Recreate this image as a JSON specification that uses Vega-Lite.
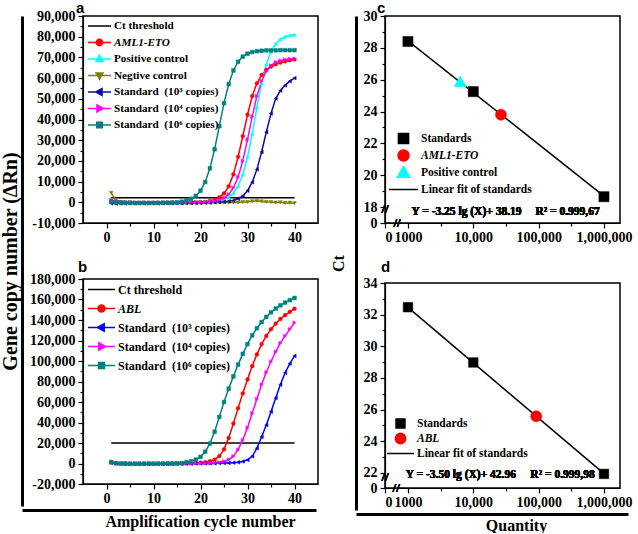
{
"$schema": "https://vega.github.io/schema/vega-lite/v6.json",
"background": "white",
"padding": {"left": 0, "top": 0, "right": 0, "bottom": 0},
"config": {
  "view": {"stroke": "#000", "strokeWidth": 1.5},
  "font": "Liberation Serif",
  "axis": {"labelFont": "Liberation Serif", "labelFontWeight": "bold", "labelFontSize": 14, "labelColor": "#000", "labelOverlap": false, "domainColor": "#000", "domainWidth": 1.2, "tickColor": "#000", "tickWidth": 1.2, "grid": false, "titleFont": "Liberation Serif", "titleFontWeight": "bold", "titleColor": "#000"},
  "legend": {"labelFont": "Liberation Serif", "labelFontWeight": "bold", "labelColor": "#000", "labelLimit": 0},
  "title": {"font": "Liberation Sans", "fontWeight": "bold", "fontSize": 15, "anchor": "start", "frame": "group", "color": "#000"}
},
"datasets": {
"a": [
{"series":"ct","cycle":1,"value":2200},{"series":"ct","cycle":40,"value":2200},
{"series":"aml","cycle":1,"value":500},{"series":"aml","cycle":2,"value":100},{"series":"aml","cycle":3,"value":-100},{"series":"aml","cycle":4,"value":-200},{"series":"aml","cycle":5,"value":-200},{"series":"aml","cycle":6,"value":-300},{"series":"aml","cycle":7,"value":-300},{"series":"aml","cycle":8,"value":-200},{"series":"aml","cycle":9,"value":-300},{"series":"aml","cycle":10,"value":-300},{"series":"aml","cycle":11,"value":-200},{"series":"aml","cycle":12,"value":-300},{"series":"aml","cycle":13,"value":-200},{"series":"aml","cycle":14,"value":-200},{"series":"aml","cycle":15,"value":-300},{"series":"aml","cycle":16,"value":-200},{"series":"aml","cycle":17,"value":-100},{"series":"aml","cycle":18,"value":-100},{"series":"aml","cycle":19,"value":0},{"series":"aml","cycle":20,"value":100},{"series":"aml","cycle":21,"value":200},{"series":"aml","cycle":22,"value":700},{"series":"aml","cycle":23,"value":1300},{"series":"aml","cycle":24,"value":2400},{"series":"aml","cycle":25,"value":4300},{"series":"aml","cycle":26,"value":7700},{"series":"aml","cycle":27,"value":13500},{"series":"aml","cycle":28,"value":22000},{"series":"aml","cycle":29,"value":32000},{"series":"aml","cycle":30,"value":42300},{"series":"aml","cycle":31,"value":51300},{"series":"aml","cycle":32,"value":57500},{"series":"aml","cycle":33,"value":61500},{"series":"aml","cycle":34,"value":64000},{"series":"aml","cycle":35,"value":65600},{"series":"aml","cycle":36,"value":66700},{"series":"aml","cycle":37,"value":67500},{"series":"aml","cycle":38,"value":68100},{"series":"aml","cycle":39,"value":68600},{"series":"aml","cycle":40,"value":69000},
{"series":"pos","cycle":1,"value":800},{"series":"pos","cycle":2,"value":300},{"series":"pos","cycle":3,"value":0},{"series":"pos","cycle":4,"value":-100},{"series":"pos","cycle":5,"value":-200},{"series":"pos","cycle":6,"value":-200},{"series":"pos","cycle":7,"value":-300},{"series":"pos","cycle":8,"value":-200},{"series":"pos","cycle":9,"value":-300},{"series":"pos","cycle":10,"value":-200},{"series":"pos","cycle":11,"value":-300},{"series":"pos","cycle":12,"value":-200},{"series":"pos","cycle":13,"value":-200},{"series":"pos","cycle":14,"value":-300},{"series":"pos","cycle":15,"value":-200},{"series":"pos","cycle":16,"value":-200},{"series":"pos","cycle":17,"value":-100},{"series":"pos","cycle":18,"value":-100},{"series":"pos","cycle":19,"value":0},{"series":"pos","cycle":20,"value":0},{"series":"pos","cycle":21,"value":100},{"series":"pos","cycle":22,"value":200},{"series":"pos","cycle":23,"value":380},{"series":"pos","cycle":24,"value":700},{"series":"pos","cycle":25,"value":1300},{"series":"pos","cycle":26,"value":2400},{"series":"pos","cycle":27,"value":4400},{"series":"pos","cycle":28,"value":7800},{"series":"pos","cycle":29,"value":13400},{"series":"pos","cycle":30,"value":21900},{"series":"pos","cycle":31,"value":33200},{"series":"pos","cycle":32,"value":45800},{"series":"pos","cycle":33,"value":57500},{"series":"pos","cycle":34,"value":66600},{"series":"pos","cycle":35,"value":72800},{"series":"pos","cycle":36,"value":76600},{"series":"pos","cycle":37,"value":78800},{"series":"pos","cycle":38,"value":80000},{"series":"pos","cycle":39,"value":80700},{"series":"pos","cycle":40,"value":81000},
{"series":"neg","cycle":1,"value":4500},{"series":"neg","cycle":2,"value":1200},{"series":"neg","cycle":3,"value":200},{"series":"neg","cycle":4,"value":-200},{"series":"neg","cycle":5,"value":-300},{"series":"neg","cycle":6,"value":-400},{"series":"neg","cycle":7,"value":-300},{"series":"neg","cycle":8,"value":-400},{"series":"neg","cycle":9,"value":-500},{"series":"neg","cycle":10,"value":-400},{"series":"neg","cycle":11,"value":-500},{"series":"neg","cycle":12,"value":-500},{"series":"neg","cycle":13,"value":-400},{"series":"neg","cycle":14,"value":-600},{"series":"neg","cycle":15,"value":-500},{"series":"neg","cycle":16,"value":-400},{"series":"neg","cycle":17,"value":-500},{"series":"neg","cycle":18,"value":-400},{"series":"neg","cycle":19,"value":-300},{"series":"neg","cycle":20,"value":-300},{"series":"neg","cycle":21,"value":-200},{"series":"neg","cycle":22,"value":-300},{"series":"neg","cycle":23,"value":-200},{"series":"neg","cycle":24,"value":-100},{"series":"neg","cycle":25,"value":-200},{"series":"neg","cycle":26,"value":-100},{"series":"neg","cycle":27,"value":0},{"series":"neg","cycle":28,"value":-100},{"series":"neg","cycle":29,"value":100},{"series":"neg","cycle":30,"value":200},{"series":"neg","cycle":31,"value":500},{"series":"neg","cycle":32,"value":700},{"series":"neg","cycle":33,"value":400},{"series":"neg","cycle":34,"value":200},{"series":"neg","cycle":35,"value":100},{"series":"neg","cycle":36,"value":-100},{"series":"neg","cycle":37,"value":0},{"series":"neg","cycle":38,"value":-300},{"series":"neg","cycle":39,"value":-200},{"series":"neg","cycle":40,"value":-400},
{"series":"s3","cycle":1,"value":-500},{"series":"s3","cycle":2,"value":-600},{"series":"s3","cycle":3,"value":-500},{"series":"s3","cycle":4,"value":-500},{"series":"s3","cycle":5,"value":-400},{"series":"s3","cycle":6,"value":-500},{"series":"s3","cycle":7,"value":-400},{"series":"s3","cycle":8,"value":-500},{"series":"s3","cycle":9,"value":-400},{"series":"s3","cycle":10,"value":-400},{"series":"s3","cycle":11,"value":-500},{"series":"s3","cycle":12,"value":-400},{"series":"s3","cycle":13,"value":-400},{"series":"s3","cycle":14,"value":-400},{"series":"s3","cycle":15,"value":-300},{"series":"s3","cycle":16,"value":-400},{"series":"s3","cycle":17,"value":-300},{"series":"s3","cycle":18,"value":-300},{"series":"s3","cycle":19,"value":-300},{"series":"s3","cycle":20,"value":-300},{"series":"s3","cycle":21,"value":-200},{"series":"s3","cycle":22,"value":-100},{"series":"s3","cycle":23,"value":0},{"series":"s3","cycle":24,"value":100},{"series":"s3","cycle":25,"value":300},{"series":"s3","cycle":26,"value":500},{"series":"s3","cycle":27,"value":900},{"series":"s3","cycle":28,"value":1700},{"series":"s3","cycle":29,"value":3100},{"series":"s3","cycle":30,"value":5600},{"series":"s3","cycle":31,"value":9700},{"series":"s3","cycle":32,"value":15900},{"series":"s3","cycle":33,"value":24300},{"series":"s3","cycle":34,"value":33900},{"series":"s3","cycle":35,"value":42900},{"series":"s3","cycle":36,"value":50100},{"series":"s3","cycle":37,"value":54000},{"series":"s3","cycle":38,"value":56500},{"series":"s3","cycle":39,"value":58500},{"series":"s3","cycle":40,"value":60000},
{"series":"s4","cycle":1,"value":1200},{"series":"s4","cycle":2,"value":500},{"series":"s4","cycle":3,"value":100},{"series":"s4","cycle":4,"value":0},{"series":"s4","cycle":5,"value":-100},{"series":"s4","cycle":6,"value":-100},{"series":"s4","cycle":7,"value":-200},{"series":"s4","cycle":8,"value":-100},{"series":"s4","cycle":9,"value":-200},{"series":"s4","cycle":10,"value":-100},{"series":"s4","cycle":11,"value":-200},{"series":"s4","cycle":12,"value":-100},{"series":"s4","cycle":13,"value":-100},{"series":"s4","cycle":14,"value":-200},{"series":"s4","cycle":15,"value":-100},{"series":"s4","cycle":16,"value":-100},{"series":"s4","cycle":17,"value":0},{"series":"s4","cycle":18,"value":0},{"series":"s4","cycle":19,"value":100},{"series":"s4","cycle":20,"value":100},{"series":"s4","cycle":21,"value":200},{"series":"s4","cycle":22,"value":300},{"series":"s4","cycle":23,"value":580},{"series":"s4","cycle":24,"value":1100},{"series":"s4","cycle":25,"value":2100},{"series":"s4","cycle":26,"value":3800},{"series":"s4","cycle":27,"value":7000},{"series":"s4","cycle":28,"value":12200},{"series":"s4","cycle":29,"value":20000},{"series":"s4","cycle":30,"value":30300},{"series":"s4","cycle":31,"value":41400},{"series":"s4","cycle":32,"value":51300},{"series":"s4","cycle":33,"value":58500},{"series":"s4","cycle":34,"value":63300},{"series":"s4","cycle":35,"value":66100},{"series":"s4","cycle":36,"value":67700},{"series":"s4","cycle":37,"value":68500},{"series":"s4","cycle":38,"value":69000},{"series":"s4","cycle":39,"value":69300},{"series":"s4","cycle":40,"value":69400},
{"series":"s6","cycle":1,"value":300},{"series":"s6","cycle":2,"value":0},{"series":"s6","cycle":3,"value":-100},{"series":"s6","cycle":4,"value":-200},{"series":"s6","cycle":5,"value":-200},{"series":"s6","cycle":6,"value":-300},{"series":"s6","cycle":7,"value":-300},{"series":"s6","cycle":8,"value":-300},{"series":"s6","cycle":9,"value":-300},{"series":"s6","cycle":10,"value":-300},{"series":"s6","cycle":11,"value":-300},{"series":"s6","cycle":12,"value":-200},{"series":"s6","cycle":13,"value":-200},{"series":"s6","cycle":14,"value":-100},{"series":"s6","cycle":15,"value":0},{"series":"s6","cycle":16,"value":300},{"series":"s6","cycle":17,"value":900},{"series":"s6","cycle":18,"value":1700},{"series":"s6","cycle":19,"value":3100},{"series":"s6","cycle":20,"value":5600},{"series":"s6","cycle":21,"value":9800},{"series":"s6","cycle":22,"value":16400},{"series":"s6","cycle":23,"value":25600},{"series":"s6","cycle":24,"value":36800},{"series":"s6","cycle":25,"value":47900},{"series":"s6","cycle":26,"value":57100},{"series":"s6","cycle":27,"value":63700},{"series":"s6","cycle":28,"value":67900},{"series":"s6","cycle":29,"value":70400},{"series":"s6","cycle":30,"value":71800},{"series":"s6","cycle":31,"value":72600},{"series":"s6","cycle":32,"value":73000},{"series":"s6","cycle":33,"value":73200},{"series":"s6","cycle":34,"value":73400},{"series":"s6","cycle":35,"value":73400},{"series":"s6","cycle":36,"value":73400},{"series":"s6","cycle":37,"value":73500},{"series":"s6","cycle":38,"value":73500},{"series":"s6","cycle":39,"value":73500},{"series":"s6","cycle":40,"value":73500}
],
"b": [
{"series":"ct","cycle":1,"value":20000},{"series":"ct","cycle":40,"value":20000},
{"series":"abl","cycle":1,"value":1200},{"series":"abl","cycle":2,"value":200},{"series":"abl","cycle":3,"value":0},{"series":"abl","cycle":4,"value":-100},{"series":"abl","cycle":5,"value":-200},{"series":"abl","cycle":6,"value":-200},{"series":"abl","cycle":7,"value":-300},{"series":"abl","cycle":8,"value":-200},{"series":"abl","cycle":9,"value":-200},{"series":"abl","cycle":10,"value":-300},{"series":"abl","cycle":11,"value":-200},{"series":"abl","cycle":12,"value":-200},{"series":"abl","cycle":13,"value":-100},{"series":"abl","cycle":14,"value":-100},{"series":"abl","cycle":15,"value":0},{"series":"abl","cycle":16,"value":0},{"series":"abl","cycle":17,"value":100},{"series":"abl","cycle":18,"value":300},{"series":"abl","cycle":19,"value":500},{"series":"abl","cycle":20,"value":800},{"series":"abl","cycle":21,"value":1300},{"series":"abl","cycle":22,"value":2200},{"series":"abl","cycle":23,"value":3800},{"series":"abl","cycle":24,"value":7200},{"series":"abl","cycle":25,"value":13800},{"series":"abl","cycle":26,"value":25000},{"series":"abl","cycle":27,"value":39000},{"series":"abl","cycle":28,"value":54000},{"series":"abl","cycle":29,"value":68500},{"series":"abl","cycle":30,"value":82000},{"series":"abl","cycle":31,"value":95000},{"series":"abl","cycle":32,"value":106500},{"series":"abl","cycle":33,"value":116500},{"series":"abl","cycle":34,"value":124500},{"series":"abl","cycle":35,"value":131000},{"series":"abl","cycle":36,"value":136500},{"series":"abl","cycle":37,"value":141000},{"series":"abl","cycle":38,"value":144700},{"series":"abl","cycle":39,"value":148000},{"series":"abl","cycle":40,"value":151000},
{"series":"s3","cycle":1,"value":600},{"series":"s3","cycle":2,"value":0},{"series":"s3","cycle":3,"value":-200},{"series":"s3","cycle":4,"value":-300},{"series":"s3","cycle":5,"value":-300},{"series":"s3","cycle":6,"value":-400},{"series":"s3","cycle":7,"value":-300},{"series":"s3","cycle":8,"value":-300},{"series":"s3","cycle":9,"value":-400},{"series":"s3","cycle":10,"value":-300},{"series":"s3","cycle":11,"value":-300},{"series":"s3","cycle":12,"value":-300},{"series":"s3","cycle":13,"value":-200},{"series":"s3","cycle":14,"value":-300},{"series":"s3","cycle":15,"value":-200},{"series":"s3","cycle":16,"value":-200},{"series":"s3","cycle":17,"value":-100},{"series":"s3","cycle":18,"value":-100},{"series":"s3","cycle":19,"value":0},{"series":"s3","cycle":20,"value":0},{"series":"s3","cycle":21,"value":100},{"series":"s3","cycle":22,"value":100},{"series":"s3","cycle":23,"value":200},{"series":"s3","cycle":24,"value":300},{"series":"s3","cycle":25,"value":400},{"series":"s3","cycle":26,"value":500},{"series":"s3","cycle":27,"value":800},{"series":"s3","cycle":28,"value":1200},{"series":"s3","cycle":29,"value":2000},{"series":"s3","cycle":30,"value":3500},{"series":"s3","cycle":31,"value":7000},{"series":"s3","cycle":32,"value":15000},{"series":"s3","cycle":33,"value":26000},{"series":"s3","cycle":34,"value":37500},{"series":"s3","cycle":35,"value":50500},{"series":"s3","cycle":36,"value":64000},{"series":"s3","cycle":37,"value":77000},{"series":"s3","cycle":38,"value":88500},{"series":"s3","cycle":39,"value":97500},{"series":"s3","cycle":40,"value":105000},
{"series":"s4","cycle":1,"value":800},{"series":"s4","cycle":2,"value":100},{"series":"s4","cycle":3,"value":-100},{"series":"s4","cycle":4,"value":-200},{"series":"s4","cycle":5,"value":-200},{"series":"s4","cycle":6,"value":-300},{"series":"s4","cycle":7,"value":-200},{"series":"s4","cycle":8,"value":-200},{"series":"s4","cycle":9,"value":-300},{"series":"s4","cycle":10,"value":-200},{"series":"s4","cycle":11,"value":-200},{"series":"s4","cycle":12,"value":-100},{"series":"s4","cycle":13,"value":-100},{"series":"s4","cycle":14,"value":-100},{"series":"s4","cycle":15,"value":0},{"series":"s4","cycle":16,"value":0},{"series":"s4","cycle":17,"value":100},{"series":"s4","cycle":18,"value":100},{"series":"s4","cycle":19,"value":200},{"series":"s4","cycle":20,"value":200},{"series":"s4","cycle":21,"value":300},{"series":"s4","cycle":22,"value":500},{"series":"s4","cycle":23,"value":800},{"series":"s4","cycle":24,"value":1300},{"series":"s4","cycle":25,"value":2100},{"series":"s4","cycle":26,"value":3700},{"series":"s4","cycle":27,"value":7000},{"series":"s4","cycle":28,"value":13500},{"series":"s4","cycle":29,"value":23000},{"series":"s4","cycle":30,"value":35000},{"series":"s4","cycle":31,"value":49000},{"series":"s4","cycle":32,"value":63000},{"series":"s4","cycle":33,"value":77000},{"series":"s4","cycle":34,"value":89000},{"series":"s4","cycle":35,"value":99500},{"series":"s4","cycle":36,"value":109000},{"series":"s4","cycle":37,"value":117500},{"series":"s4","cycle":38,"value":124500},{"series":"s4","cycle":39,"value":131000},{"series":"s4","cycle":40,"value":137500},
{"series":"s6","cycle":1,"value":1500},{"series":"s6","cycle":2,"value":300},{"series":"s6","cycle":3,"value":0},{"series":"s6","cycle":4,"value":-100},{"series":"s6","cycle":5,"value":-200},{"series":"s6","cycle":6,"value":-200},{"series":"s6","cycle":7,"value":-200},{"series":"s6","cycle":8,"value":-200},{"series":"s6","cycle":9,"value":-100},{"series":"s6","cycle":10,"value":-200},{"series":"s6","cycle":11,"value":-100},{"series":"s6","cycle":12,"value":-100},{"series":"s6","cycle":13,"value":0},{"series":"s6","cycle":14,"value":0},{"series":"s6","cycle":15,"value":100},{"series":"s6","cycle":16,"value":400},{"series":"s6","cycle":17,"value":1200},{"series":"s6","cycle":18,"value":2200},{"series":"s6","cycle":19,"value":3800},{"series":"s6","cycle":20,"value":6500},{"series":"s6","cycle":21,"value":11500},{"series":"s6","cycle":22,"value":19500},{"series":"s6","cycle":23,"value":31000},{"series":"s6","cycle":24,"value":45500},{"series":"s6","cycle":25,"value":60000},{"series":"s6","cycle":26,"value":73000},{"series":"s6","cycle":27,"value":85000},{"series":"s6","cycle":28,"value":96500},{"series":"s6","cycle":29,"value":107000},{"series":"s6","cycle":30,"value":116500},{"series":"s6","cycle":31,"value":125000},{"series":"s6","cycle":32,"value":132000},{"series":"s6","cycle":33,"value":138000},{"series":"s6","cycle":34,"value":143000},{"series":"s6","cycle":35,"value":147500},{"series":"s6","cycle":36,"value":151200},{"series":"s6","cycle":37,"value":154300},{"series":"s6","cycle":38,"value":157000},{"series":"s6","cycle":39,"value":159400},{"series":"s6","cycle":40,"value":161500}
],
"c": [
{"series":"Standards","quantity":1000,"ct":28.4},{"series":"Standards","quantity":10000,"ct":25.25},{"series":"Standards","quantity":1000000,"ct":18.65},
{"series":"AML1-ETO","quantity":26500,"ct":23.8},
{"series":"Positive control","quantity":6300,"ct":25.85},
{"series":"Linear fit of standards","quantity":1000,"ct":28.44},{"series":"Linear fit of standards","quantity":1000000,"ct":18.69}
],
"d": [
{"series":"Standards","quantity":1000,"ct":32.47},{"series":"Standards","quantity":10000,"ct":28.98},{"series":"Standards","quantity":1000000,"ct":21.94},
{"series":"ABL","quantity":92000,"ct":25.58},
{"series":"Linear fit of standards","quantity":1000,"ct":32.46},{"series":"Linear fit of standards","quantity":1000000,"ct":21.96}
]
},
"resolve": {"scale": {"color": "independent", "stroke": "independent", "shape": "independent"}},
"spacing": 11,
"hconcat": [
 {
  "spacing": 0,
  "resolve": {"scale": {"color": "independent", "stroke": "independent", "shape": "independent"}},
  "vconcat": [
   {
    "spacing": 60,
    "bounds": "flush",
    "resolve": {"scale": {"color": "independent", "stroke": "independent", "shape": "independent"}},
    "hconcat": [
     {
      "width": 1, "height": 490, "view": {"stroke": null},
      "data": {"values": [{"d": 0.5}]},
      "mark": {"type": "point", "opacity": 0},
      "encoding": {"y": {"field": "d", "type": "quantitative", "scale": {"domain": [0, 1], "nice": false},
        "axis": {"title": "Gene copy number (ΔRn)", "titleFontSize": 20, "titlePadding": 2, "domainWidth": 3, "ticks": false, "labels": false, "grid": false}}}
     },
     {
      "spacing": 56,
      "bounds": "flush",
      "resolve": {"scale": {"color": "independent", "stroke": "independent", "shape": "independent"}},
      "vconcat": [
       {
        "width": 235, "height": 207,
        "title": {"text": "a", "dx": -7, "offset": -7},
        "data": {"name": "a"},
        "layer": [
         {
          "mark": {"type": "line", "strokeWidth": 1.5},
          "encoding": {
           "x": {"field": "cycle", "type": "quantitative", "scale": {"domain": [-5, 45], "nice": false},
             "axis": {"orient": "bottom", "values": [0, 10, 20, 30, 40], "title": null, "tickSize": 5, "labelPadding": 2}},
           "y": {"field": "value", "type": "quantitative", "scale": {"domain": [-10000, 90000], "nice": false},
             "axis": {"orient": "left", "values": [-10000, 0, 10000, 20000, 30000, 40000, 50000, 60000, 70000, 80000, 90000], "format": ",.0f", "labelExpr": "replace(datum.label, '−', '-')", "title": null, "tickSize": 5, "labelPadding": 3}},
           "color": {"field": "series", "type": "nominal",
             "scale": {"domain": ["ct", "aml", "pos", "neg", "s3", "s4", "s6"], "range": ["#000000", "#FF0000", "#00FFFF", "#808000", "#0D0D99", "#FF00FF", "#008080"]}}
          }
         },
         {
          "transform": [{"filter": "datum.series !== 'ct'"}],
          "mark": {"type": "point", "filled": true, "size": 14, "opacity": 1, "strokeWidth": 0.5},
          "encoding": {
           "x": {"field": "cycle", "type": "quantitative", "axis": null},
           "y": {"field": "value", "type": "quantitative", "axis": null},
           "color": {"field": "series", "type": "nominal",
             "legend": {"orient": "top-left", "offset": 4, "padding": 0, "title": null, "symbolSize": 529, "symbolStrokeWidth": 1.5, "symbolOpacity": 1, "clipHeight": 12, "labelFontSize": 11.2, "labelOffset": 2, "rowPadding": 4.5,
               "labelExpr": "datum.value === 'ct' ? 'Ct threshold' : datum.value === 'aml' ? 'AML1-ETO' : datum.value === 'pos' ? 'Positive control' : datum.value === 'neg' ? 'Negtive control' : datum.value === 's3' ? 'Standard\u00a0 (10³ copies)' : datum.value === 's4' ? 'Standard\u00a0 (10⁴ copies)' : 'Standard\u00a0 (10⁶ copies)'",
               "encode": {
                "symbols": {"update": {"shape": {"signal": "datum.value === 'ct' ? 'M-1,0H1' : datum.value === 'aml' ? 'M-1,0H1M0.28,0A0.28,0.28,0,1,1,-0.28,0A0.28,0.28,0,1,1,0.28,0Z' : datum.value === 'pos' ? 'M-1,0H1M0,-0.32L0.3,0.22L-0.3,0.22Z' : datum.value === 'neg' ? 'M-1,0H1M0,0.32L0.3,-0.22L-0.3,-0.22Z' : datum.value === 's3' ? 'M-1,0H1M-0.32,0L0.22,-0.3L0.22,0.3Z' : datum.value === 's4' ? 'M-1,0H1M0.32,0L-0.22,-0.3L-0.22,0.3Z' : 'M-1,0H1M-0.24,-0.24H0.24V0.24H-0.24Z'"}}},
                "labels": {"update": {"fontStyle": {"signal": "datum.value === 'aml' ? 'italic' : 'normal'"}}}
               }}},
           "stroke": {"field": "series", "type": "nominal",
             "scale": {"domain": ["ct", "aml", "pos", "neg", "s3", "s4", "s6"], "range": ["#000000", "#FF0000", "#00FFFF", "#808000", "#0D0D99", "#FF00FF", "#008080"]},
             "legend": {"title": null}},
           "shape": {"field": "series", "type": "nominal",
             "scale": {"domain": ["aml", "pos", "neg", "s3", "s4", "s6"], "range": ["circle", "triangle-up", "triangle-down", "triangle-left", "triangle-right", "square"]},
             "legend": null}
          }
         },
         {
          "data": {"values": [{"cycle": 0, "value": 0}]},
          "mark": {"type": "point", "opacity": 0},
          "encoding": {
           "x": {"field": "cycle", "type": "quantitative", "axis": {"orient": "bottom", "values": [5, 15, 25, 35], "labels": false, "domain": false, "tickSize": 3, "title": null}},
           "y": {"field": "value", "type": "quantitative", "axis": {"orient": "left", "values": [-5000, 5000, 15000, 25000, 35000, 45000, 55000, 65000, 75000, 85000], "labels": false, "domain": false, "tickSize": 3, "title": null}}
          }
         }
        ],
        "resolve": {"axis": {"x": "independent", "y": "independent"}}
       },
       {
        "width": 235, "height": 205,
        "title": {"text": "b", "dx": -5, "offset": -3},
        "data": {"name": "b"},
        "layer": [
         {
          "mark": {"type": "line", "strokeWidth": 1.5},
          "encoding": {
           "x": {"field": "cycle", "type": "quantitative", "scale": {"domain": [-5, 45], "nice": false},
             "axis": {"orient": "bottom", "values": [0, 10, 20, 30, 40], "title": null, "tickSize": 5, "labelPadding": 2}},
           "y": {"field": "value", "type": "quantitative", "scale": {"domain": [-20000, 180000], "nice": false},
             "axis": {"orient": "left", "values": [-20000, 0, 20000, 40000, 60000, 80000, 100000, 120000, 140000, 160000, 180000], "format": ",.0f", "labelExpr": "replace(datum.label, '−', '-')", "title": null, "tickSize": 5, "labelPadding": 3}},
           "color": {"field": "series", "type": "nominal",
             "scale": {"domain": ["ct", "abl", "s3", "s4", "s6"], "range": ["#000000", "#FF0000", "#0000FF", "#FF00FF", "#008080"]}}
          }
         },
         {
          "transform": [{"filter": "datum.series !== 'ct'"}],
          "mark": {"type": "point", "filled": true, "size": 14, "opacity": 1, "strokeWidth": 0.5},
          "encoding": {
           "x": {"field": "cycle", "type": "quantitative", "axis": null},
           "y": {"field": "value", "type": "quantitative", "axis": null},
           "color": {"field": "series", "type": "nominal",
             "legend": {"orient": "top-left", "offset": 4, "padding": 0, "title": null, "symbolSize": 729, "symbolStrokeWidth": 1.5, "symbolOpacity": 1, "clipHeight": 13, "labelFontSize": 12, "labelOffset": 2, "rowPadding": 6,
               "labelExpr": "datum.value === 'ct' ? 'Ct threshold' : datum.value === 'abl' ? 'ABL' : datum.value === 's3' ? 'Standard\u00a0 (10³ copies)' : datum.value === 's4' ? 'Standard\u00a0 (10⁴ copies)' : 'Standard\u00a0 (10⁶ copies)'",
               "encode": {
                "symbols": {"update": {"shape": {"signal": "datum.value === 'ct' ? 'M-1,0H1' : datum.value === 'abl' ? 'M-1,0H1M0.26,0A0.26,0.26,0,1,1,-0.26,0A0.26,0.26,0,1,1,0.26,0Z' : datum.value === 's3' ? 'M-1,0H1M-0.3,0L0.2,-0.28L0.2,0.28Z' : datum.value === 's4' ? 'M-1,0H1M0.3,0L-0.2,-0.28L-0.2,0.28Z' : 'M-1,0H1M-0.22,-0.22H0.22V0.22H-0.22Z'"}}},
                "labels": {"update": {"fontStyle": {"signal": "datum.value === 'abl' ? 'italic' : 'normal'"}}}
               }}},
           "stroke": {"field": "series", "type": "nominal",
             "scale": {"domain": ["ct", "abl", "s3", "s4", "s6"], "range": ["#000000", "#FF0000", "#0000FF", "#FF00FF", "#008080"]},
             "legend": {"title": null}},
           "shape": {"field": "series", "type": "nominal",
             "scale": {"domain": ["abl", "s3", "s4", "s6"], "range": ["circle", "triangle-left", "triangle-right", "square"]},
             "legend": null}
          }
         },
         {
          "data": {"values": [{"cycle": 0, "value": 0}]},
          "mark": {"type": "point", "opacity": 0},
          "encoding": {
           "x": {"field": "cycle", "type": "quantitative", "axis": {"orient": "bottom", "values": [5, 15, 25, 35], "labels": false, "domain": false, "tickSize": 3, "title": null}},
           "y": {"field": "value", "type": "quantitative", "axis": {"orient": "left", "values": [-10000, 10000, 30000, 50000, 70000, 90000, 110000, 130000, 150000, 170000], "labels": false, "domain": false, "tickSize": 3, "title": null}}
          }
         }
        ],
        "resolve": {"axis": {"x": "independent", "y": "independent"}}
       }
      ]
     }
    ]
   },
   {
    "width": 294, "height": 1, "view": {"stroke": null},
    "data": {"values": [{"d": 0.5}]},
    "mark": {"type": "point", "opacity": 0},
    "encoding": {"x": {"field": "d", "type": "quantitative", "scale": {"domain": [0, 1], "nice": false},
      "axis": {"title": "Amplification cycle number", "titleFontSize": 16, "titlePadding": 3, "titleX": 178, "domainWidth": 3, "ticks": false, "labels": false, "grid": false}}}
   }
  ]
 },
 {
  "spacing": 0,
  "resolve": {"scale": {"color": "independent", "stroke": "independent", "shape": "independent"}},
  "vconcat": [
   {
    "spacing": 28,
    "bounds": "flush",
    "resolve": {"scale": {"color": "independent", "stroke": "independent", "shape": "independent"}},
    "hconcat": [
     {
      "width": 1, "height": 494, "view": {"stroke": null},
      "data": {"values": [{"d": 0.5}]},
      "mark": {"type": "point", "opacity": 0},
      "encoding": {"y": {"field": "d", "type": "quantitative", "scale": {"domain": [0, 1], "nice": false},
        "axis": {"title": "Ct", "titleFontSize": 16, "titlePadding": 10, "domainWidth": 3, "ticks": false, "labels": false, "grid": false}}}
     },
     {
      "spacing": 60,
      "bounds": "flush",
      "resolve": {"scale": {"color": "independent", "stroke": "independent", "shape": "independent"}},
      "vconcat": [
       {
        "width": 235, "height": 207,
        "title": {"text": "c", "dx": -8, "offset": -7},
        "data": {"name": "c"},
        "layer": [
         {
          "transform": [{"filter": "datum.series === 'Linear fit of standards'"}],
          "mark": {"type": "line", "color": "#000", "strokeWidth": 1.5},
          "encoding": {
           "x": {"field": "quantity", "type": "quantitative", "scale": {"type": "log", "domain": [445, 1760000], "nice": false},
             "axis": {"orient": "bottom", "values": [445, 1000, 10000, 100000, 1000000], "labelExpr": "datum.value < 500 ? '0' : datum.value == 1000 ? '1000' : format(datum.value, ',')", "title": null, "tickSize": 5, "labelPadding": 2}},
           "y": {"field": "ct", "type": "quantitative", "scale": {"domain": [17, 30], "nice": false, "zero": false},
             "axis": {"orient": "left", "values": [17, 18, 20, 22, 24, 26, 28, 30], "labelExpr": "datum.value < 17.5 ? '0' : datum.label", "title": null, "tickSize": 5, "labelPadding": 3}}
          }
         },
         {
          "transform": [{"filter": "datum.series !== 'Linear fit of standards'"}],
          "mark": {"type": "point", "filled": true, "size": 841, "opacity": 1, "strokeWidth": 0.5},
          "encoding": {
           "x": {"field": "quantity", "type": "quantitative", "axis": null},
           "y": {"field": "ct", "type": "quantitative", "axis": null},
           "color": {"field": "series", "type": "nominal",
             "scale": {"domain": ["Standards", "AML1-ETO", "Positive control", "Linear fit of standards"], "range": ["#000000", "#FF0000", "#00FFFF", "#000000"]},
             "legend": {"orient": "none", "legendX": 3, "legendY": 116, "padding": 0, "title": null, "symbolSize": 841, "symbolStrokeWidth": 1.5, "symbolOpacity": 1, "clipHeight": 13, "labelFontSize": 11.5, "labelOffset": 2, "rowPadding": 4,
               "encode": {"labels": {"update": {"fontStyle": {"signal": "datum.value === 'AML1-ETO' ? 'italic' : 'normal'"}}}}}},
           "stroke": {"field": "series", "type": "nominal",
             "scale": {"domain": ["Standards", "AML1-ETO", "Positive control", "Linear fit of standards"], "range": ["#000000", "#FF0000", "#00FFFF", "#000000"]},
             "legend": {"title": null}},
           "shape": {"field": "series", "type": "nominal",
             "scale": {"domain": ["Standards", "AML1-ETO", "Positive control", "Linear fit of standards"], "range": ["M-0.35,-0.35H0.35V0.35H-0.35Z", "M0.38,0A0.38,0.38,0,1,1,-0.38,0A0.38,0.38,0,1,1,0.38,0Z", "M0,-0.42L0.42,0.32L-0.42,0.32Z", "M-1,0H1"]},
             "legend": {"title": null}}
          }
         },
         {
          "data": {"values": [{"quantity": 1000, "ct": 20}]},
          "mark": {"type": "point", "opacity": 0},
          "encoding": {
           "x": {"field": "quantity", "type": "quantitative", "axis": {"orient": "bottom", "values": [3162.3, 31622.8, 316227.8], "labels": false, "domain": false, "tickSize": 3, "title": null}},
           "y": {"field": "ct", "type": "quantitative", "axis": {"orient": "left", "values": [19, 21, 23, 25, 27, 29], "labels": false, "domain": false, "tickSize": 3, "title": null}}
          }
         },
         {
          "mark": {"type": "text", "text": "Y = -3.25 lg (X)+ 38.19", "font": "Liberation Serif", "fontWeight": "bold", "fontSize": 11.5, "color": "#000"},
          "encoding": {"x": {"datum": 7870, "type": "quantitative", "axis": null}, "y": {"datum": 17.69, "type": "quantitative", "axis": null}}
         },
         {
          "mark": {"type": "text", "text": "R² = 0.999,67", "font": "Liberation Serif", "fontWeight": "bold", "fontSize": 11.5, "color": "#000"},
          "encoding": {"x": {"datum": 277000, "type": "quantitative", "axis": null}, "y": {"datum": 17.69, "type": "quantitative", "axis": null}}
         },
         {
          "mark": {"type": "text", "text": "//", "font": "Liberation Serif", "fontWeight": "bold", "fontSize": 13, "color": "#000"},
          "encoding": {"x": {"datum": 445, "type": "quantitative", "axis": null}, "y": {"datum": 17.85, "type": "quantitative", "axis": null}}
         },
         {
          "mark": {"type": "text", "text": "//", "font": "Liberation Serif", "fontWeight": "bold", "fontSize": 13, "color": "#000"},
          "encoding": {"x": {"datum": 680, "type": "quantitative", "axis": null}, "y": {"datum": 17, "type": "quantitative", "axis": null}}
         }
        ],
        "resolve": {"axis": {"x": "independent", "y": "independent"}}
       },
       {
        "width": 235, "height": 205,
        "title": {"text": "d", "dx": -4, "offset": 1},
        "data": {"name": "d"},
        "layer": [
         {
          "transform": [{"filter": "datum.series === 'Linear fit of standards'"}],
          "mark": {"type": "line", "color": "#000", "strokeWidth": 1.5},
          "encoding": {
           "x": {"field": "quantity", "type": "quantitative", "scale": {"type": "log", "domain": [445, 1760000], "nice": false},
             "axis": {"orient": "bottom", "values": [445, 1000, 10000, 100000, 1000000], "labelExpr": "datum.value < 500 ? '0' : datum.value == 1000 ? '1000' : format(datum.value, ',')", "title": null, "tickSize": 5, "labelPadding": 2}},
           "y": {"field": "ct", "type": "quantitative", "scale": {"domain": [21.05, 34], "nice": false, "zero": false},
             "axis": {"orient": "left", "values": [21.05, 22, 24, 26, 28, 30, 32, 34], "labelExpr": "datum.value < 21.5 ? '0' : datum.label", "title": null, "tickSize": 5, "labelPadding": 3}}
          }
         },
         {
          "transform": [{"filter": "datum.series !== 'Linear fit of standards'"}],
          "mark": {"type": "point", "filled": true, "size": 841, "opacity": 1, "strokeWidth": 0.5},
          "encoding": {
           "x": {"field": "quantity", "type": "quantitative", "axis": null},
           "y": {"field": "ct", "type": "quantitative", "axis": null},
           "color": {"field": "series", "type": "nominal",
             "scale": {"domain": ["Standards", "ABL", "Linear fit of standards"], "range": ["#000000", "#FF0000", "#000000"]},
             "legend": {"orient": "none", "legendX": 1, "legendY": 134, "padding": 0, "title": null, "symbolSize": 729, "symbolStrokeWidth": 1.5, "symbolOpacity": 1, "clipHeight": 13, "labelFontSize": 11.5, "labelOffset": 2, "rowPadding": 2,
               "encode": {"labels": {"update": {"fontStyle": {"signal": "datum.value === 'ABL' ? 'italic' : 'normal'"}}}}}},
           "stroke": {"field": "series", "type": "nominal",
             "scale": {"domain": ["Standards", "ABL", "Linear fit of standards"], "range": ["#000000", "#FF0000", "#000000"]},
             "legend": {"title": null}},
           "shape": {"field": "series", "type": "nominal",
             "scale": {"domain": ["Standards", "ABL", "Linear fit of standards"], "range": ["M-0.33,-0.33H0.33V0.33H-0.33Z", "M0.38,0A0.38,0.38,0,1,1,-0.38,0A0.38,0.38,0,1,1,0.38,0Z", "M-1,0H1"]},
             "legend": {"title": null}}
          }
         },
         {
          "data": {"values": [{"quantity": 1000, "ct": 25}]},
          "mark": {"type": "point", "opacity": 0},
          "encoding": {
           "x": {"field": "quantity", "type": "quantitative", "axis": {"orient": "bottom", "values": [3162.3, 31622.8, 316227.8], "labels": false, "domain": false, "tickSize": 3, "title": null}},
           "y": {"field": "ct", "type": "quantitative", "axis": {"orient": "left", "values": [23, 25, 27, 29, 31, 33], "labels": false, "domain": false, "tickSize": 3, "title": null}}
          }
         },
         {
          "mark": {"type": "text", "text": "Y = -3.50 lg (X)+ 42.96", "font": "Liberation Serif", "fontWeight": "bold", "fontSize": 11.5, "color": "#000"},
          "encoding": {"x": {"datum": 6460, "type": "quantitative", "axis": null}, "y": {"datum": 21.85, "type": "quantitative", "axis": null}}
         },
         {
          "mark": {"type": "text", "text": "R² = 0.999,98", "font": "Liberation Serif", "fontWeight": "bold", "fontSize": 11.5, "color": "#000"},
          "encoding": {"x": {"datum": 232000, "type": "quantitative", "axis": null}, "y": {"datum": 21.85, "type": "quantitative", "axis": null}}
         },
         {
          "mark": {"type": "text", "text": "//", "font": "Liberation Serif", "fontWeight": "bold", "fontSize": 13, "color": "#000"},
          "encoding": {"x": {"datum": 445, "type": "quantitative", "axis": null}, "y": {"datum": 21.75, "type": "quantitative", "axis": null}}
         },
         {
          "mark": {"type": "text", "text": "//", "font": "Liberation Serif", "fontWeight": "bold", "fontSize": 13, "color": "#000"},
          "encoding": {"x": {"datum": 660, "type": "quantitative", "axis": null}, "y": {"datum": 21.05, "type": "quantitative", "axis": null}}
         }
        ],
        "resolve": {"axis": {"x": "independent", "y": "independent"}}
       }
      ]
     }
    ]
   },
   {
    "width": 272, "height": 1, "view": {"stroke": null},
    "data": {"values": [{"d": 0.5}]},
    "mark": {"type": "point", "opacity": 0},
    "encoding": {"x": {"field": "d", "type": "quantitative", "scale": {"domain": [0, 1], "nice": false},
      "axis": {"title": "Quantity", "titleFontSize": 16, "titlePadding": 3, "titleX": 160, "domainWidth": 3, "ticks": false, "labels": false, "grid": false}}}
   }
  ]
 }
]
}
